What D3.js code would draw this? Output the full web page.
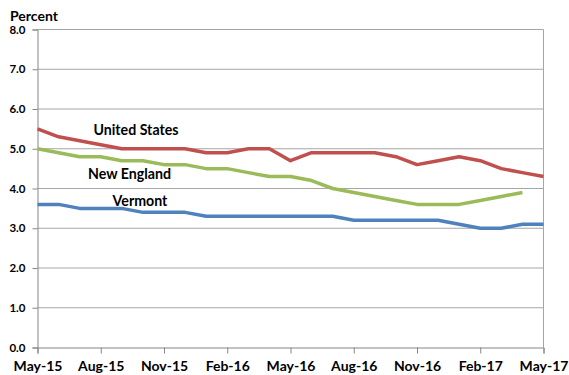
<!DOCTYPE html>
<html>
<head>
<meta charset="utf-8">
<script src="https://cdn.jsdelivr.net/npm/d3@7"></script>
<style>
  html, body { margin: 0; padding: 0; background: #fff; }
  svg { display: block; font-family: Lato, "Open Sans", sans-serif; }
</style>
</head>
<body>
<svg id="chart" width="569" height="375"></svg>
<script>
// Monthly unemployment rates, May 2015 – May 2017
const months = ["May-15","Jun-15","Jul-15","Aug-15","Sep-15","Oct-15","Nov-15","Dec-15",
  "Jan-16","Feb-16","Mar-16","Apr-16","May-16","Jun-16","Jul-16","Aug-16","Sep-16","Oct-16",
  "Nov-16","Dec-16","Jan-17","Feb-17","Mar-17","Apr-17","May-17"];
const tickLabels = ["May-15","Aug-15","Nov-15","Feb-16","May-16","Aug-16","Nov-16","Feb-17","May-17"];
const yTicks = [0,1,2,3,4,5,6,7,8];

const unitedStates = [5.5,5.3,5.2,5.1,5.0,5.0,5.0,5.0,4.9,4.9,5.0,5.0,4.7,4.9,4.9,4.9,4.9,4.8,4.6,4.7,4.8,4.7,4.5,4.4,4.3];
const newEngland   = [5.0,4.9,4.8,4.8,4.7,4.7,4.6,4.6,4.5,4.5,4.4,4.3,4.3,4.2,4.0,3.9,3.8,3.7,3.6,3.6,3.6,3.7,3.8,3.9];
const vermont      = [3.6,3.6,3.5,3.5,3.5,3.4,3.4,3.4,3.3,3.3,3.3,3.3,3.3,3.3,3.3,3.2,3.2,3.2,3.2,3.2,3.1,3.0,3.0,3.1,3.1];

const series = [
  { name: "United States", values: unitedStates, color: "#C0504D", label: [136, 134.5] },
  { name: "New England",   values: newEngland,   color: "#9BBB59", label: [129.5, 178.5] },
  { name: "Vermont",       values: vermont,      color: "#4F81BD", label: [140, 206] }
];

const svg = d3.select("#chart");
const plot = { left: 37.5, right: 543.5, top: 29.5, bottom: 347.5 };

const x = d3.scalePoint().domain(months).range([plot.left, plot.right]);
const y = d3.scaleLinear().domain([0, 8]).range([plot.bottom, plot.top]);

// horizontal gridlines
svg.append("g")
  .selectAll("line")
  .data(yTicks.filter(d => d > 0))
  .join("line")
  .attr("x1", plot.left).attr("x2", plot.right)
  .attr("y1", d => y(d)).attr("y2", d => y(d))
  .attr("stroke", "#a6a6a6").attr("stroke-width", 1);

// right border of plot area
svg.append("line")
  .attr("x1", plot.right).attr("x2", plot.right)
  .attr("y1", plot.top).attr("y2", plot.bottom)
  .attr("stroke", "#a6a6a6").attr("stroke-width", 1);

// y axis
const yAxis = svg.append("g")
  .attr("transform", `translate(${plot.left},0)`)
  .call(d3.axisLeft(y).tickValues(yTicks).tickFormat(d3.format(".1f")).tickSize(5).tickPadding(7));
yAxis.select(".domain").attr("stroke", "#868686");
yAxis.selectAll(".tick line").attr("stroke", "#868686");
yAxis.selectAll("text")
  .attr("font-size", 11.5).attr("font-weight", "bold").attr("fill", "#000")
  .attr("font-family", "Lato, sans-serif");

// x axis
const xAxis = svg.append("g")
  .attr("transform", `translate(0,${plot.bottom})`)
  .call(d3.axisBottom(x).tickValues(tickLabels).tickSize(6).tickPadding(8));
xAxis.select(".domain").attr("stroke", "#868686");
xAxis.selectAll(".tick line").attr("stroke", "#868686");
xAxis.selectAll("text")
  .attr("font-size", 14).attr("font-weight", "bold").attr("fill", "#000")
  .attr("font-family", "Lato, sans-serif");

// series lines
const line = d3.line().x((d, i) => x(months[i])).y(d => y(d));
svg.append("g")
  .selectAll("path")
  .data(series)
  .join("path")
  .attr("d", d => line(d.values))
  .attr("fill", "none")
  .attr("stroke", d => d.color)
  .attr("stroke-width", 3.5)
  .attr("stroke-linejoin", "round");

// series labels
svg.append("g")
  .selectAll("text")
  .data(series)
  .join("text")
  .attr("x", d => d.label[0]).attr("y", d => d.label[1])
  .attr("text-anchor", "middle")
  .attr("font-size", 14.2).attr("font-weight", "bold")
  .text(d => d.name);

// y axis title
svg.append("text")
  .attr("x", 10).attr("y", 21)
  .attr("font-size", 14).attr("font-weight", "bold")
  .text("Percent");
</script>
</body>
</html>
